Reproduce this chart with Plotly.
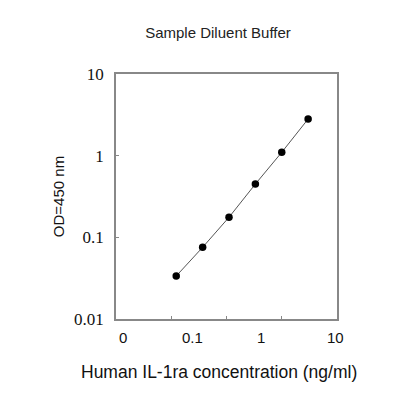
import plotly.graph_objects as go
import math

conc = [0.0123, 0.037, 0.111, 0.333, 1.0, 3.0]
od = [0.0336, 0.0755, 0.176, 0.449, 1.10, 2.81]

y_tickvals = [0.01, 0.1, 1, 10]
y_ticktext = ["0.01", "0.1", "1", "10"]
x_tickvals = [0.01, 0.1, 1, 10]
x_label_pos = [0.00132, 0.024, 0.415, 9.3]
x_label_text = ["0", "0.1", "1", "10"]

fig = go.Figure()
fig.add_trace(go.Scatter(
    x=conc, y=od, mode="lines+markers",
    line=dict(color="#555555", width=1),
    marker=dict(color="black", size=7.5),
    showlegend=False,
))

for xv, t in zip(x_label_pos, x_label_text):
    fig.add_annotation(x=math.log10(xv), y=0, xref="x", yref="paper",
                       yanchor="top", yshift=-8, text=t, showarrow=False,
                       font=dict(family="Arial, Liberation Sans", size=15, color="#111"))

fig.add_annotation(x=0.466, y=0, xref="paper", yref="paper", xanchor="center",
                   yanchor="middle", yshift=-53, showarrow=False,
                   text="Human IL-1ra concentration (ng/ml)",
                   font=dict(family="Arial, Liberation Sans", size=17.5, color="#111"))

fig.update_layout(
    width=400, height=400,
    margin=dict(l=108, r=71, t=66, b=89),
    paper_bgcolor="white", plot_bgcolor="white",
    title=dict(text="Sample Diluent Buffer", x=0.525, xanchor="center", y=0.9375, yanchor="middle",
               font=dict(family="Arial, Liberation Sans", size=15, color="#222")),
    xaxis=dict(type="log", range=[-3, 1], tickvals=x_tickvals, showticklabels=False,
               ticks="inside", ticklen=3, tickcolor="#888",
               showline=True, linecolor="#888", linewidth=1.5, mirror=True,
               showgrid=False, zeroline=False),
    yaxis=dict(type="log", range=[-2, 1], tickvals=y_tickvals, ticktext=y_ticktext,
               ticks="inside", ticklen=3, tickcolor="#888", ticklabelstandoff=7,
               showline=True, linecolor="#888", linewidth=1.5, mirror=True,
               showgrid=False, zeroline=False,
               tickfont=dict(family="Times New Roman, Liberation Serif", size=17, color="#111"),
               title=dict(text="OD=450 nm", standoff=6,
                          font=dict(family="Arial, Liberation Sans", size=15, color="#111"))),
)

fig.write_html("out.html")
